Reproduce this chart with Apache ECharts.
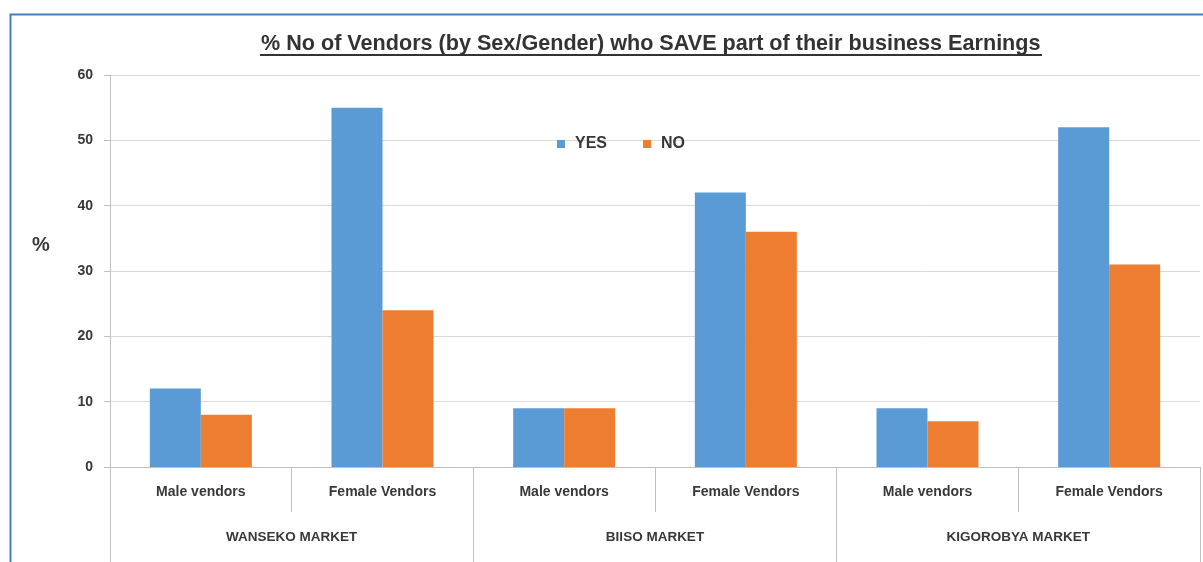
<!DOCTYPE html>
<html>
<head>
<meta charset="utf-8">
<script src="https://cdn.jsdelivr.net/npm/echarts@6/dist/echarts.min.js"></script>
<style>
  html, body { margin: 0; padding: 0; background: #fff; }
  #chart { width: 1203px; height: 562px; }
</style>
</head>
<body>
<div id="chart"></div>
<script>
// Vendor groups (inner axis) and the markets they belong to (outer axis)
const vendorGroups = ['Male vendors', 'Female Vendors', 'Male vendors', 'Female Vendors', 'Male vendors', 'Female Vendors'];
const markets = ['WANSEKO MARKET', 'BIISO MARKET', 'KIGOROBYA MARKET'];

// Percentage of vendors who save part of their earnings
const yesValues = [12, 55, 9, 42, 9, 52];
const noValues = [8, 24, 9, 36, 7, 31];

const yTicks = { min: 0, max: 60, interval: 10 };

const FONT = '"Liberation Sans", Arial, sans-serif';
const axisGray = '#bfbfbf';
const textDark = '#383838';

const chart = echarts.init(document.getElementById('chart'));

chart.setOption({
  animation: false,
  backgroundColor: '#ffffff',
  title: {
    text: '% No of Vendors (by Sex/Gender) who SAVE part of their business Earnings',
    left: 256,
    top: 28,
    textStyle: { fontFamily: FONT, fontSize: 21.6, fontWeight: 'bold', color: '#333333' }
  },
  legend: {
    data: ['YES', 'NO'],
    left: 552,
    top: 131,
    itemWidth: 8,
    itemHeight: 8,
    itemGap: 36,
    icon: 'rect',
    textStyle: { fontFamily: FONT, fontSize: 16, fontWeight: 'bold', color: textDark, padding: [0, 0, 0, 5] }
  },
  grid: { left: 110, right: 3, top: 75, bottom: 95, containLabel: false },
  xAxis: [
    {
      type: 'category',
      data: vendorGroups,
      position: 'bottom',
      axisLine: { show: true, lineStyle: { color: axisGray, width: 1 } },
      axisTick: { show: true, interval: 0, length: 45, lineStyle: { color: axisGray } },
      axisLabel: { interval: 0, margin: 18, fontFamily: FONT, fontSize: 14, fontWeight: 'bold', color: textDark }
    },
    {
      type: 'category',
      data: markets,
      position: 'bottom',
      axisLine: { show: false },
      axisTick: { show: true, interval: 0, length: 100, lineStyle: { color: axisGray } },
      axisLabel: { interval: 0, margin: 63, fontFamily: FONT, fontSize: 13.5, fontWeight: 'bold', color: textDark }
    }
  ],
  yAxis: {
    type: 'value',
    min: yTicks.min,
    max: yTicks.max,
    interval: yTicks.interval,
    axisLine: { show: true, lineStyle: { color: axisGray } },
    axisTick: { show: true, length: 6, lineStyle: { color: axisGray } },
    axisLabel: { margin: 17, fontFamily: FONT, fontSize: 14, fontWeight: 'bold', color: textDark },
    splitLine: { show: true, lineStyle: { color: '#d9d9d9', width: 1 } }
  },
  series: [
    {
      name: 'YES',
      type: 'bar',
      data: yesValues,
      barWidth: 51,
      barGap: '0%',
      itemStyle: { color: '#5b9bd5' }
    },
    {
      name: 'NO',
      type: 'bar',
      data: noValues,
      barWidth: 51,
      barGap: '0%',
      itemStyle: { color: '#ed7d31' }
    }
  ],
  graphic: [
    {
      // value-axis unit
      type: 'text',
      x: 41,
      y: 245,
      style: {
        text: '%',
        fontFamily: FONT,
        fontSize: 20,
        fontWeight: 'bold',
        fill: textDark,
        align: 'center',
        verticalAlign: 'middle'
      },
      silent: true
    },
    {
      // outer frame
      type: 'rect',
      left: 8,
      top: 12,
      shape: { width: 1300, height: 700 },
      style: { fill: 'none', stroke: '#4a7ebb', lineWidth: 2 },
      silent: true,
      z: 10
    },
    {
      // title underline
      type: 'line',
      shape: { x1: 260, y1: 55, x2: 1042, y2: 55 },
      style: { stroke: '#333333', lineWidth: 2 },
      silent: true
    }
  ]
});
</script>
</body>
</html>
